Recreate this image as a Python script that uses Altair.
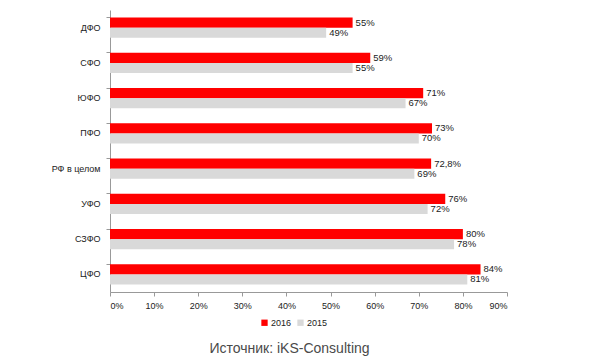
import altair as alt
import pandas as pd

regions = ["ДФО", "СФО", "ЮФО", "ПФО", "РФ в целом", "УФО", "СЗФО", "ЦФО"]
v2016 = [55, 59, 71, 73, 72.8, 76, 80, 84]
v2015 = [49, 55, 67, 70, 69, 72, 78, 81]
l2016 = ["55%", "59%", "71%", "73%", "72,8%", "76%", "80%", "84%"]
l2015 = ["49%", "55%", "67%", "70%", "69%", "72%", "78%", "81%"]
years = ["2016", "2015"]
ticks = [0, 10, 20, 30, 40, 50, 60, 70, 80, 90]

rows = []
for r, a, b, la, lb in zip(regions, v2016, v2015, l2016, l2015):
    rows.append({"region": r, "year": "2016", "value": a, "label": la})
    rows.append({"region": r, "year": "2015", "value": b, "label": lb})
df = pd.DataFrame(rows)

FONT = "Liberation Sans"

y = alt.Y("region:N", sort=regions, title=None,
          scale=alt.Scale(paddingInner=0.43, paddingOuter=0.215),
          axis=alt.Axis(bandPosition=0, domainColor="#999999", tickColor="#999999",
                        tickSize=4, labelFontSize=9, labelColor="#222222",
                        labelPadding=6, labelFont=FONT))
yoff = alt.YOffset("year:N", sort=years)
x = alt.X("value:Q", title=None,
          scale=alt.Scale(domain=[0, 90], nice=False),
          axis=alt.Axis(values=ticks, labelExpr="datum.value + '%'", grid=False,
                        domainColor="#999999", tickColor="#999999", tickSize=4,
                        labelFontSize=9, labelColor="#222222", labelFont=FONT,
                        labelPadding=5))

bars = alt.Chart(df).mark_bar().encode(
    x=x, y=y, yOffset=yoff,
    color=alt.Color("year:N", sort=years,
                    scale=alt.Scale(domain=years, range=["#FF0000", "#D9D9D9"]),
                    legend=alt.Legend(title=None, orient="none", direction="horizontal",
                                      legendX=150, legendY=308, symbolType="square",
                                      symbolSize=40, labelFontSize=9, labelFont=FONT,
                                      labelColor="#222222", columnPadding=4,
                                      labelOffset=2)),
)

text = alt.Chart(df).mark_text(align="left", dx=3, fontSize=9.5, font=FONT,
                               color="#222222").encode(
    x="value:Q", y=alt.Y("region:N", sort=regions), yOffset=yoff, text="label:N")

chart = (bars + text).properties(
    width=397, height=282,
    autosize=alt.AutoSizeParams(type="none"),
    padding={"left": 110, "top": 10, "right": 93, "bottom": 65},
    title=alt.TitleParams("Источник: iKS-Consulting", orient="bottom", anchor="middle",
                          fontSize=14, font=FONT, fontWeight="normal",
                          color="#4a4a4a", offset=14, dx=-19),
).configure_view(stroke=None)

chart.save("out.html", embed_options={"renderer": "svg", "actions": False})
